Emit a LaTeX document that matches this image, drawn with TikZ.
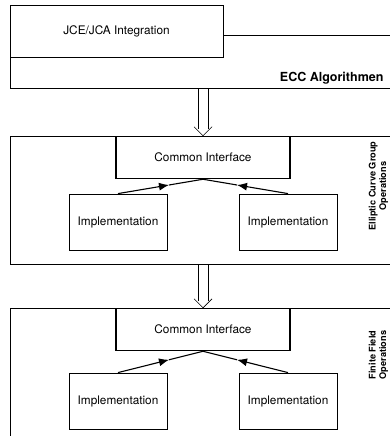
\documentclass[tikz,border=0pt]{standalone}
\usepackage{fontspec}
\setmainfont{TeX Gyre Heros}
\usetikzlibrary{positioning,arrows.meta,calc}

\begin{document}
\begin{tikzpicture}[>=latex, x=1pt, y=-1pt]
    \tikzset{
        frame/.style={draw, line width=0.7pt, minimum width=390pt, inner sep=0pt},
        iface/.style={draw, fill=white, line width=1.5pt, minimum width=174pt, minimum height=42pt, font=\fontsize{11.8}{14}\selectfont},
        impl/.style={draw, line width=0.8pt, minimum width=98pt, minimum height=56pt, font=\fontsize{11.8}{14}\selectfont},
        sidelabel/.style={rotate=90, align=center, font=\fontsize{9.2}{10.5}\selectfont\bfseries},
        flow/.style={line width=1.1pt},
        flowhead/.style={line width=1.1pt, -{Latex[length=10pt,width=8pt]}},
        layerflow/.style={line width=0.7pt}
    }
    \path[use as bounding box, clip] (0,0) rectangle (390,436);

    % ECC algorithms
    \node[frame, minimum height=53pt] (ecc) at (205,61.5) {};
    \node[draw, fill=white, line width=0.8pt, minimum width=213pt, minimum height=52pt,
          font=\fontsize{11.8}{14}\selectfont] (jce) at (116.5,31) {JCE/JCA Integration};
    \node[anchor=east, font=\fontsize{12.5}{14}\selectfont\bfseries] (ecctext) at (387,78) {ECC Algorithmen};

    % elliptic curve group operations
    \node[frame, minimum height=128pt] (ecg) at (205,200) {};
    \node[iface] (ci1) at (203,157.5) {Common Interface};
    \node[impl] (impl1a) at (118,222) {Implementation};
    \node[impl] (impl1b) at (288,222) {Implementation};
    \node[sidelabel] (ecglabel) at (378.5,186) {Elliptic Curve Group\\Operations};

    % finite field operations
    \node[frame, minimum height=140pt] (ff) at (205,378) {};
    \node[iface] (ci2) at (203,329.5) {Common Interface};
    \node[impl] (impl2a) at (118,401) {Implementation};
    \node[impl] (impl2b) at (288,401) {Implementation};
    \node[sidelabel] (fflabel) at (378.5,355) {Finite Field\\Operations};

    % hollow arrows between the layers
    \foreach \up/\down in {ecc/ci1, ecg/ci2} {
        \coordinate (top) at (\down.north |- \up.south);
        \draw[layerflow] ($(top)+(-5,0)$) -- ($(\down.north)+(-5,-7)$)
                         ($(top)+(5,0)$) -- ($(\down.north)+(5,-7)$);
        \draw[layerflow] ($(\down.north)+(-9,-9)$) -- (\down.north) -- ($(\down.north)+(9,-9)$);
    }

    % implementations to their interface, head part way along
    \foreach \impl/\ci in {impl1a/ci1, impl1b/ci1, impl2a/ci2, impl2b/ci2} {
        \coordinate (mid) at ($(\impl.north)!0.6!(\ci.south)$);
        \draw[flowhead] (\impl.north) -- (mid);
        \draw[flow] (mid) -- (\ci.south);
    }
\end{tikzpicture}
\end{document}
